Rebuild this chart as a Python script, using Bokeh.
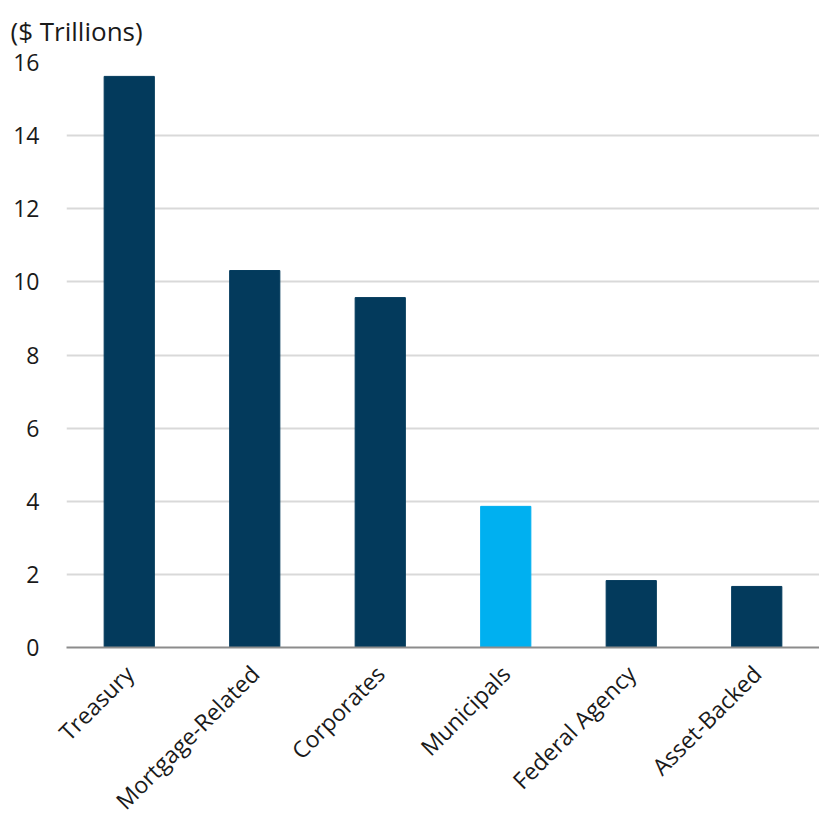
import math
from bokeh.plotting import figure
from bokeh.models import ColumnDataSource, FixedTicker
from bokeh.embed import file_html
from bokeh.resources import INLINE

categories = ["Treasury", "Mortgage-Related", "Corporates", "Municipals", "Federal Agency", "Asset-Backed"]
values = [15.62, 10.31, 9.57, 3.86, 1.83, 1.67]
bar_colors = ["#033a5c", "#033a5c", "#033a5c", "#00b0f0", "#033a5c", "#033a5c"]
y_ticks = [0, 2, 4, 6, 8, 10, 12, 14, 16]
unit_label = "($ Trillions)"

FONT = "Open Sans"
TXT = "#1a1a1a"
FS = "23px"

src = ColumnDataSource(dict(cat=categories, val=values, color=bar_colors))

p = figure(x_range=categories, y_range=(0, 16), frame_width=753, frame_height=585,
           output_backend="svg", toolbar_location=None,
           min_border_left=66, min_border_right=0, min_border_top=61, min_border_bottom=0)

p.vbar(x="cat", top="val", width=0.4, color="color", source=src)

p.title.text = unit_label
p.title.align = "left"
p.title.offset = -56
p.title.text_font = FONT
p.title.text_font_size = "26px"
p.title.text_font_style = "normal"
p.title.text_color = TXT
p.title.standoff = 24
p.title.vertical_align = "top"

p.outline_line_color = None
p.background_fill_color = "white"
p.border_fill_color = "white"

p.xgrid.grid_line_color = None
p.ygrid.grid_line_color = "#d9d9d9"
p.ygrid.grid_line_width = 2
p.yaxis.ticker = FixedTicker(ticks=y_ticks)

p.yaxis.axis_line_color = None
p.yaxis.major_tick_line_color = None
p.yaxis.minor_tick_line_color = None
p.yaxis.major_label_text_font = FONT
p.yaxis.major_label_text_font_size = FS
p.yaxis.major_label_text_color = TXT
p.yaxis.major_label_standoff = 21

p.xaxis.axis_line_color = "#8c8c8c"
p.xaxis.axis_line_width = 2
p.xaxis.major_tick_line_color = None
p.xaxis.minor_tick_line_color = None
p.xaxis.major_label_orientation = math.pi / 4
p.xaxis.major_label_text_font = FONT
p.xaxis.major_label_text_font_size = FS
p.xaxis.major_label_text_color = TXT
p.xaxis.major_label_standoff = 16
p.x_range.range_padding = 0

open("out.html", "w").write(file_html(p, INLINE))
